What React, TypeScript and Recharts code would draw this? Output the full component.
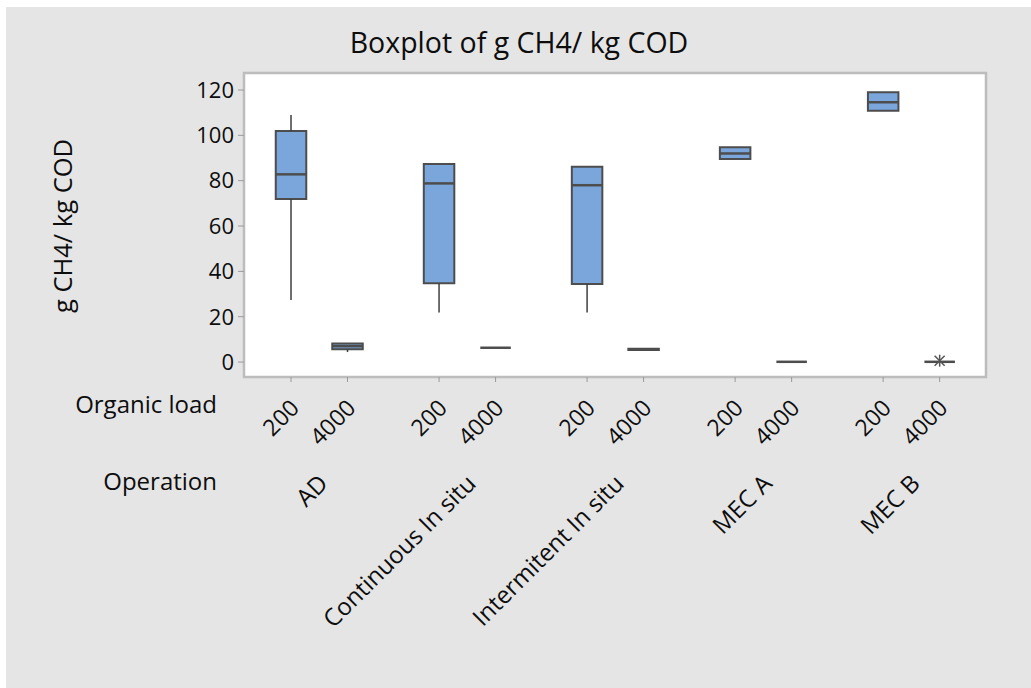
import React from "react";
import {
  ComposedChart,
  XAxis,
  YAxis,
  CartesianGrid,
  ReferenceArea,
  ReferenceLine,
  Scatter,
} from "recharts";

// Grouping factors of the boxplot
const operations = ["AD", "Continuous In situ", "Intermitent In situ", "MEC A", "MEC B"];
const organicLoads = ["200", "4000"];

// Box statistics, one entry per (operation, organic load) cell:
// AD-200, AD-4000, Continuous-200, Continuous-4000, Intermitent-200, ...
const whiskerLow = [27.4, 4.4, 21.8, 6.3, 21.8, 5.3, 89.6, 0.1, 110.9, 0.1];
const quartile1 = [71.9, 5.6, 34.7, 6.3, 34.4, 5.3, 89.6, 0.1, 110.9, 0.1];
const medians = [82.8, 7.0, 78.8, 6.3, 78.0, 5.6, 92.0, 0.1, 114.6, 0.1];
const quartile3 = [101.9, 8.2, 87.4, 6.3, 86.2, 5.9, 94.7, 0.1, 119.0, 0.1];
const whiskerHigh = [109.0, 8.2, 87.4, 6.3, 86.2, 5.9, 94.7, 0.1, 119.0, 0.1];

// Outliers drawn as asterisks: cell index and value
const outlierCells = [9];
const outlierValues = [0.6];

const yTicks = [0, 20, 40, 60, 80, 100, 120];

const TITLE = "Boxplot of g CH4/ kg COD";
const Y_LABEL = "g CH4/ kg COD";

// layout helpers (axis units: one unit = distance between the two loads of a group)
const GROUP_STEP = 2.62;
const HALF_BOX = 0.27;
const X_DOMAIN: [number, number] = [-0.832, 12.3];
const Y_DOMAIN: [number, number] = [-6.6, 127.5];

const FONT = "'Segoe UI', 'Open Sans', sans-serif";
const TEXT = "#0d0d0d";
const BOX_FILL = "#7ba6db";
const BOX_EDGE = "#4d4d4d";

const cells = operations.flatMap((op, g) =>
  organicLoads.map((load, l) => {
    const k = g * organicLoads.length + l;
    return {
      op,
      load,
      x: g * GROUP_STEP + l,
      low: whiskerLow[k],
      q1: quartile1[k],
      med: medians[k],
      q3: quartile3[k],
      high: whiskerHigh[k],
    };
  })
);

const loadTicks = cells.map((c) => c.x);
const loadLabelAt = (x: number) => {
  const c = cells.find((d) => Math.abs(d.x - x) < 1e-6);
  return c ? c.load : "";
};
const groupTicks = operations.map((_, g) => g * GROUP_STEP + 0.5);
const groupLabelAt = (x: number) => {
  const g = groupTicks.findIndex((t) => Math.abs(t - x) < 1e-6);
  return g >= 0 ? operations[g] : "";
};

const outlierData = outlierCells.map((k, i) => ({ x: cells[k].x, y: outlierValues[i] }));

const LoadTick = (props: any) => {
  const { x, y, payload } = props;
  const ax = x + 9.5;
  const ay = y + 25.5;
  return (
    <text
      x={ax}
      y={ay}
      textAnchor="end"
      fontSize={23}
      fontFamily={FONT}
      fill={TEXT}
      transform={`rotate(-45 ${ax} ${ay})`}
    >
      {loadLabelAt(payload.value)}
    </text>
  );
};

const GroupTick = (props: any) => {
  const { x, y, payload } = props;
  const ax = x + 10;
  const ay = y + 36;
  return (
    <text
      x={ax}
      y={ay}
      textAnchor="end"
      fontSize={24}
      fontFamily={FONT}
      fill={TEXT}
      transform={`rotate(-45 ${ax} ${ay})`}
    >
      {groupLabelAt(payload.value)}
    </text>
  );
};

const Asterisk = (props: any) => {
  const { cx, cy } = props;
  const r = 5;
  return (
    <g stroke="#555" strokeWidth={1.5}>
      <line x1={cx - r} y1={cy - r} x2={cx + r} y2={cy + r} />
      <line x1={cx - r} y1={cy + r} x2={cx + r} y2={cy - r} />
      <line x1={cx} y1={cy - r - 1} x2={cx} y2={cy + r + 1} />
    </g>
  );
};

export default function App() {
  return (
    <div
      style={{
        position: "absolute",
        left: 0,
        top: 0,
        width: 1031,
        height: 688,
        background: "#ffffff",
        overflow: "hidden",
        fontFamily: FONT,
      }}
    >
      <div
        style={{
          position: "absolute",
          left: 6,
          top: 7,
          right: 0,
          bottom: 0,
          background: "#e5e5e5",
        }}
      />
      <div
        style={{
          position: "absolute",
          left: 0,
          width: 1038,
          top: 28,
          textAlign: "center",
          fontSize: 28.5,
          lineHeight: "28px",
          color: TEXT,
          whiteSpace: "nowrap",
        }}
      >
        {TITLE}
      </div>
      <div
        style={{
          position: "absolute",
          left: 62,
          top: 226,
          transform: "translate(-50%, -50%) rotate(-90deg)",
          whiteSpace: "nowrap",
          fontSize: 25.5,
          lineHeight: "26px",
          color: TEXT,
        }}
      >
        {Y_LABEL}
      </div>
      <div
        style={{
          position: "absolute",
          right: 1031 - 217,
          top: 392,
          fontSize: 24,
          lineHeight: "24px",
          color: TEXT,
          whiteSpace: "nowrap",
        }}
      >
        Organic load
      </div>
      <div
        style={{
          position: "absolute",
          right: 1031 - 217,
          top: 469,
          fontSize: 24,
          lineHeight: "24px",
          color: TEXT,
          whiteSpace: "nowrap",
        }}
      >
        Operation
      </div>
      <div style={{ position: "absolute", left: 0, top: 0 }}>
        <ComposedChart
          width={1031}
          height={688}
          margin={{ top: 73, right: 45, left: 184, bottom: 141 }}
        >
          <CartesianGrid horizontal={false} vertical={false} fill="#ffffff" />
          <XAxis
            xAxisId={0}
            dataKey="x"
            type="number"
            domain={X_DOMAIN}
            allowDataOverflow
            ticks={loadTicks}
            interval={0}
            height={70}
            axisLine={false}
            tickSize={5}
            tickLine={{ stroke: "#9a9a9a" }}
            tick={<LoadTick />}
          />
          <XAxis
            xAxisId="op"
            dataKey="x"
            type="number"
            domain={X_DOMAIN}
            allowDataOverflow
            ticks={groupTicks}
            interval={0}
            height={100}
            axisLine={false}
            tickLine={false}
            tickSize={0}
            tick={<GroupTick />}
          />
          <YAxis
            dataKey="y"
            type="number"
            domain={Y_DOMAIN}
            allowDataOverflow
            ticks={yTicks}
            interval={0}
            width={60}
            axisLine={false}
            tickSize={6}
            tickMargin={4}
            tickLine={{ stroke: "#9a9a9a" }}
            tick={{ fontSize: 22, fill: TEXT, fontFamily: FONT }}
          />
          {cells.map((c, i) =>
            c.high > c.q3 ? (
              <ReferenceLine
                key={`wh${i}`}
                segment={[
                  { x: c.x, y: c.q3 },
                  { x: c.x, y: c.high },
                ]}
                stroke="#3f3f3f"
                strokeWidth={1.5}
                ifOverflow="visible"
              />
            ) : null
          )}
          {cells.map((c, i) =>
            c.q1 > c.low ? (
              <ReferenceLine
                key={`wl${i}`}
                segment={[
                  { x: c.x, y: c.low },
                  { x: c.x, y: c.q1 },
                ]}
                stroke="#3f3f3f"
                strokeWidth={1.5}
                ifOverflow="visible"
              />
            ) : null
          )}
          {cells.map((c, i) =>
            c.q3 > c.q1 ? (
              <ReferenceArea
                key={`box${i}`}
                x1={c.x - HALF_BOX}
                x2={c.x + HALF_BOX}
                y1={c.q1}
                y2={c.q3}
                fill={BOX_FILL}
                fillOpacity={1}
                stroke={BOX_EDGE}
                strokeWidth={2}
                ifOverflow="visible"
              />
            ) : null
          )}
          {cells.map((c, i) => (
            <ReferenceLine
              key={`med${i}`}
              segment={[
                { x: c.x - HALF_BOX, y: c.med },
                { x: c.x + HALF_BOX, y: c.med },
              ]}
              stroke={BOX_EDGE}
              strokeWidth={2.5}
              ifOverflow="visible"
            />
          ))}
          <ReferenceArea
            x1={X_DOMAIN[0]}
            x2={X_DOMAIN[1]}
            y1={Y_DOMAIN[0]}
            y2={Y_DOMAIN[1]}
            fill="none"
            stroke="#bdbdbd"
            strokeWidth={2.5}
            ifOverflow="visible"
          />
          <Scatter
            data={outlierData}
            dataKey="y"
            shape={<Asterisk />}
            isAnimationActive={false}
          />
        </ComposedChart>
      </div>
    </div>
  );
}
